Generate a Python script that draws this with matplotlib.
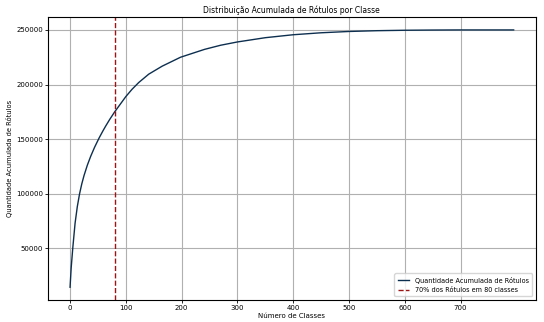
import matplotlib
matplotlib.use("Agg")
import matplotlib.pyplot as plt

# Number of classes (x) and cumulative number of labels (y)
classes = [0, 2, 5, 9, 13, 17, 21, 25, 31, 37, 44, 52, 59, 64, 71, 80, 100, 111,
           123, 141, 165, 198, 241, 270, 300, 350, 400, 450, 500, 550, 600,
           650, 700, 795]
cumulative = [14400, 32000, 51000, 73000, 88200, 99800, 109000, 116600, 126200,
              134300, 142600, 151000, 157650, 162100, 168000, 175000, 189000,
              195600, 201800, 209500, 216800, 225000, 232200, 236000, 239000,
              242900, 245600, 247400, 248600, 249300, 249700, 249900, 250000,
              250000]
cut_classes = 80

title = "Distribuição Acumulada de Rótulos por Classe"
xlabel = "Número de Classes"
ylabel = "Quantidade Acumulada de Rótulos"
line_label = "Quantidade Acumulada de Rótulos"
cut_label = "70% dos Rótulos em 80 classes"

fig = plt.figure(figsize=(5.44, 3.22), dpi=100)
ax = fig.add_axes([0.088, 0.068, 0.897, 0.879])
ax.plot(classes, cumulative, color="#0d2f4f", linewidth=1.0, label=line_label)
ax.axvline(cut_classes, color="#9b1515", linestyle="--", linewidth=1.0, label=cut_label)
ax.set_xticks([0, 100, 200, 300, 400, 500, 600, 700])
ax.set_yticks([50000, 100000, 150000, 200000, 250000])
ax.tick_params(labelsize=5, length=2.5, width=0.6, pad=1)
ax.set_title(title, fontsize=5.5, pad=3)
ax.set_xlabel(xlabel, fontsize=5, labelpad=1.5)
ax.set_ylabel(ylabel, fontsize=4.9, labelpad=2)
ax.grid(True, color="#b0b0b0", linewidth=0.8)
for s in ax.spines.values():
    s.set_linewidth(0.8)
ax.legend(loc="lower right", fontsize=4.7, handlelength=1.8, borderpad=0.5,
          labelspacing=0.5, borderaxespad=0.6)
fig.savefig("out.png", dpi=100)
